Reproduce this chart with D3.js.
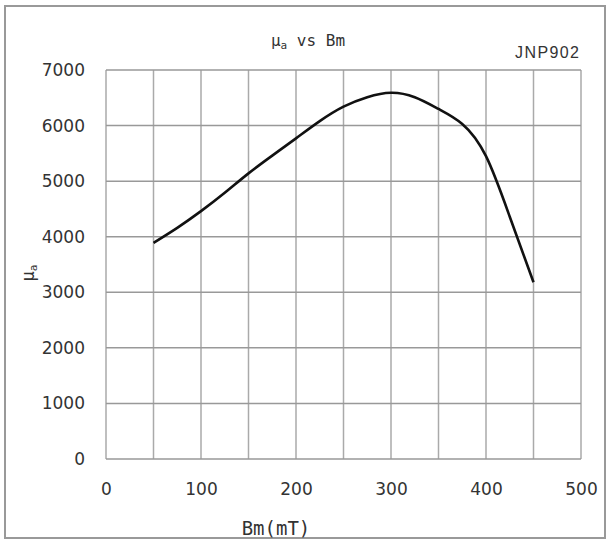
<!DOCTYPE html>
<html>
<head>
<meta charset="utf-8">
<script src="https://cdn.jsdelivr.net/npm/d3@7"></script>
<style>
body{margin:0;background:#fff;}
.tick text{font-family:"DejaVu Sans",sans-serif;font-size:17px;fill:#333;}
</style>
</head>
<body>
<div id="chart"></div>
<script>
// curve
var bm=[50,75,100,125,150,175,200,225,250,275,300,325,350,375,400,425,450];
var mu=[3890,4160,4460,4790,5140,5460,5770,6080,6340,6510,6590,6510,6300,6030,5450,4360,3180];
var xTicks=[0,100,200,300,400,500];
var yTicks=[0,1000,2000,3000,4000,5000,6000,7000];
var xGrid=[0,50,100,150,200,250,300,350,400,450,500];

var W=610,H=544;
var svg=d3.select('#chart').append('svg')
    .attr('width',W)
    .attr('height',H);

// outer frame
svg.append('rect')
    .attr('x',5).attr('y',6)
    .attr('width',600).attr('height',532)
    .attr('fill','#fff')
    .attr('stroke','#999')
    .attr('stroke-width',2);

var x=d3.scaleLinear().domain([0,500]).range([106,581]);
var y=d3.scaleLinear().domain([0,7000]).range([459,70]);

// grid
svg.selectAll('.vgrid')
    .data(xGrid)
    .enter()
    .append('line')
    .attr('class','vgrid')
    .attr('x1',function(d){return x(d);})
    .attr('x2',function(d){return x(d);})
    .attr('y1',y(0))
    .attr('y2',y(7000))
    .attr('stroke','#aaa')
    .attr('stroke-width',1.5);

svg.selectAll('.hgrid')
    .data(yTicks)
    .enter()
    .append('line')
    .attr('class','hgrid')
    .attr('x1',x(0))
    .attr('x2',x(500))
    .attr('y1',function(d){return y(d);})
    .attr('y2',function(d){return y(d);})
    .attr('stroke','#999')
    .attr('stroke-width',1.5);

// axes (labels only)
var xAxis=d3.axisBottom(x).tickValues(xTicks).tickFormat(d3.format('d')).tickSize(0).tickPadding(24);
var yAxis=d3.axisLeft(y).tickValues(yTicks).tickFormat(d3.format('d')).tickSize(0).tickPadding(21);

svg.append('g')
    .attr('transform','translate(0,'+y(0)+')')
    .call(xAxis)
    .call(function(g){g.select('.domain').remove();});

svg.append('g')
    .attr('transform','translate('+x(0)+',0)')
    .call(yAxis)
    .call(function(g){g.select('.domain').remove();});

// curve
var line=d3.line()
    .x(function(d,i){return x(bm[i]);})
    .y(function(d){return y(d);})
    .curve(d3.curveNatural);

svg.append('path')
    .datum(mu)
    .attr('d',line)
    .attr('fill','none')
    .attr('stroke','#111')
    .attr('stroke-width',2.6);

// title
var title=svg.append('text')
    .attr('x',308)
    .attr('y',46)
    .attr('text-anchor','middle')
    .attr('font-family','"DejaVu Sans Mono",monospace')
    .attr('font-size',16)
    .attr('fill','#333');
title.append('tspan').text('μ');
title.append('tspan').attr('font-size',11).attr('dy',3).text('a');
title.append('tspan').attr('dy',-3).text(' vs Bm');

svg.append('text')
    .attr('x',579)
    .attr('y',58)
    .attr('text-anchor','end')
    .attr('font-family','"Liberation Sans",sans-serif')
    .attr('font-size',16)
    .attr('textLength',64)
    .attr('fill','#333')
    .text('JNP902');

// axis titles
svg.append('text')
    .attr('x',276)
    .attr('y',535)
    .attr('text-anchor','middle')
    .attr('font-family','"DejaVu Sans Mono",monospace')
    .attr('font-size',19)
    .attr('fill','#333')
    .text('Bm(mT)');

var yl=svg.append('text')
    .attr('transform','translate(34,273) rotate(-90)')
    .attr('text-anchor','middle')
    .attr('font-family','"DejaVu Sans Mono",monospace')
    .attr('font-size',17)
    .attr('fill','#333');
yl.append('tspan').text('μ');
yl.append('tspan').attr('font-size',11).attr('dy',3).text('a');
</script>
</body>
</html>
